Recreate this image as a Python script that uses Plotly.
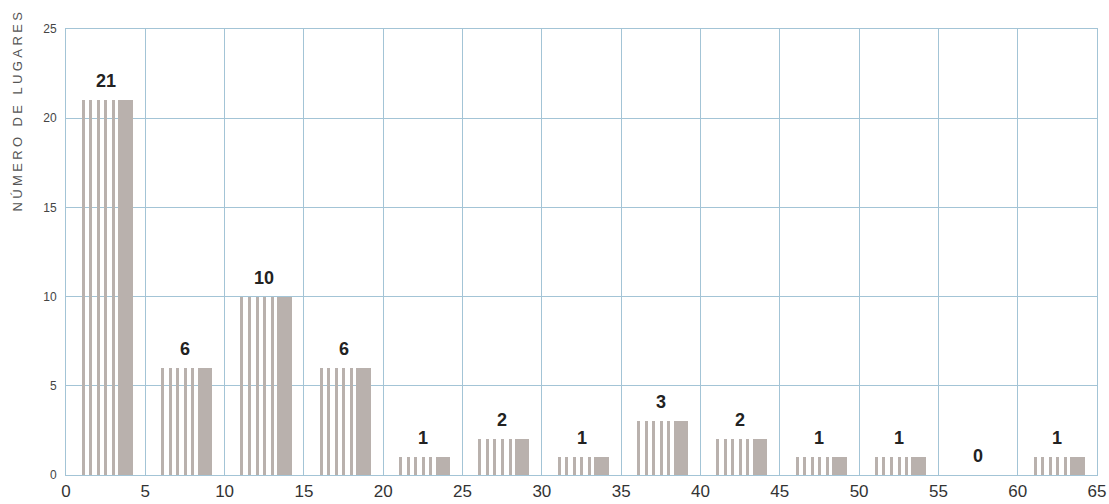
import plotly.graph_objects as go

# Data
bin_starts = [0, 5, 10, 15, 20, 25, 30, 35, 40, 45, 50, 55, 60]
counts = [21, 6, 10, 6, 1, 2, 1, 3, 2, 1, 1, 0, 1]
x_ticks = [0, 5, 10, 15, 20, 25, 30, 35, 40, 45, 50, 55, 60, 65]
y_ticks = [0, 5, 10, 15, 20, 25]
y_title = "NÚMERO DE LUGARES"

BAR_COLOR = "#b9b1ad"
GRID = "#a3c4d6"
FONT = "Liberation Sans, Arial, sans-serif"

fig = go.Figure()

# striped part: 5 thin bars per group
stripe_start = 1.0
stripe_period = 0.475
stripe_width = 0.19
for k in range(5):
    fig.add_trace(go.Bar(
        x=bin_starts, y=counts, base=0,
        offset=stripe_start + k * stripe_period, width=stripe_width,
        marker=dict(color=BAR_COLOR, line=dict(width=0)),
        showlegend=False, hoverinfo="skip",
    ))

# solid part
fig.add_trace(go.Bar(
    x=bin_starts, y=counts, base=0,
    offset=3.3, width=0.92,
    marker=dict(color=BAR_COLOR, line=dict(width=0)),
    showlegend=False, hoverinfo="skip",
))

annotations = []
for b, c in zip(bin_starts, counts):
    annotations.append(dict(
        x=b + 2.5, y=c, xref="x", yref="y", text=str(c),
        showarrow=False, yanchor="bottom", yshift=7,
        font=dict(family=FONT, size=18, color="#222222", weight="bold"),
    ))

annotations.append(dict(
    x=(18 - 66) / 1031, xref="paper", y=0.819, yref="paper",
    text=y_title, textangle=-90, showarrow=False,
    xanchor="center", yanchor="middle",
    font=dict(family=FONT, size=13, color="#555555"),
))

fig.update_layout(
    width=1109, height=504,
    margin=dict(l=66, r=12, t=29, b=29, pad=0),
    paper_bgcolor="white", plot_bgcolor="white",
    barmode="overlay", bargap=0,
    annotations=annotations,
    xaxis=dict(
        range=[0, 65], tickvals=x_ticks, ticktext=[str(v) for v in x_ticks],
        showgrid=True, gridcolor=GRID, gridwidth=1,
        showline=True, linecolor=GRID, linewidth=1, mirror=True,
        zeroline=False, ticks="", ticklabelstandoff=1, automargin=False,
        tickfont=dict(family=FONT, size=17, color="#333333"),
    ),
    yaxis=dict(
        range=[0, 25], tickvals=y_ticks, ticktext=[str(v) for v in y_ticks],
        showgrid=True, gridcolor=GRID, gridwidth=1,
        showline=True, linecolor=GRID, linewidth=1, mirror=True,
        zeroline=False, ticks="", ticklabelstandoff=6, automargin=False,
        tickfont=dict(family=FONT, size=12, color="#444444"),
    ),
)

post = """
var t = document.querySelectorAll('.annotation-text');
t.forEach(function(el){ if (el.textContent.indexOf('LUGARES') >= 0) { el.style.letterSpacing = '3.4px'; } });
"""

fig.write_html("out.html", post_script=post)
